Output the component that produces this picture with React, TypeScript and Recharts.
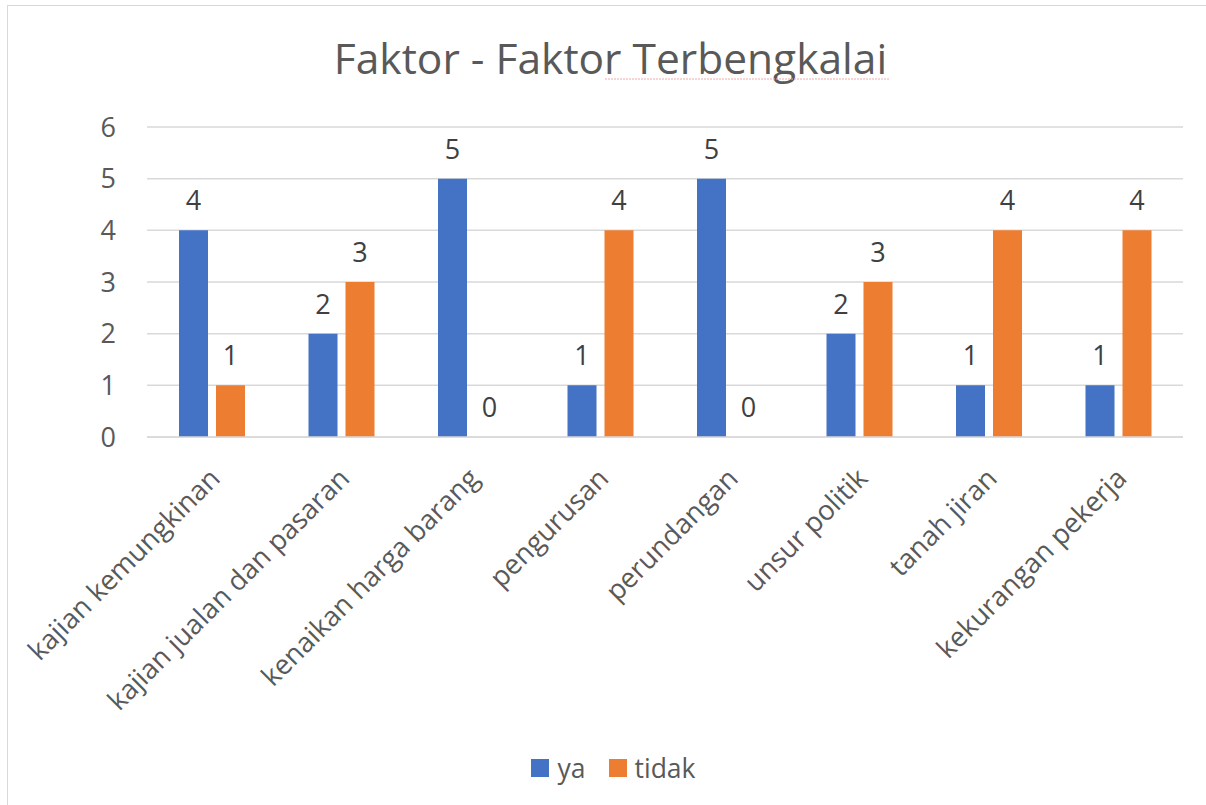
import React from "react";
import { BarChart, Bar, XAxis, YAxis, CartesianGrid, LabelList, Legend } from "recharts";

const categories = [
  "kajian kemungkinan",
  "kajian jualan dan pasaran",
  "kenaikan harga barang",
  "pengurusan",
  "perundangan",
  "unsur politik",
  "tanah jiran",
  "kekurangan pekerja",
];
const yaValues = [4, 2, 5, 1, 5, 2, 1, 1];
const tidakValues = [1, 3, 0, 4, 0, 3, 4, 4];
const yTicks = [0, 1, 2, 3, 4, 5, 6];
const seriesNames = ["ya", "tidak"];
const seriesColors = ["#4472C4", "#ED7D31"];
const titleText = "Faktor - Faktor Terbengkalai";

const data = categories.map((c, i) => ({ name: c, ya: yaValues[i], tidak: tidakValues[i] }));

const FONT = "'Open Sans', sans-serif";
const TEXT = "#595959";

const XTick = (props: any) => {
  const { x, y, payload } = props;
  return (
    <g transform={`translate(${x + 10},${y + 43})`}>
      <text transform="rotate(-45)" textAnchor="end" fill={TEXT} fontSize={27.5} fontFamily={FONT}>
        {payload.value}
      </text>
    </g>
  );
};

const renderValueLabel = (p: any) => {
  const { x, y, width, height, value } = p;
  const top = Math.min(Number(y), Number(y) + Number(height || 0));
  return (
    <text
      x={Number(x) + Number(width) / 2}
      y={top - 20}
      textAnchor="middle"
      fill="#404040"
      fontSize={27}
      fontFamily={FONT}
    >
      {value}
    </text>
  );
};

const LegendContent = () => (
  <div style={{ height: 68, display: "flex", justifyContent: "center", alignItems: "flex-start", boxSizing: "border-box" }}>
    <div style={{ display: "flex", alignItems: "center", marginTop: 16, marginLeft: 44 }}>
      {seriesNames.map((n, i) => (
        <div key={n} style={{ display: "flex", alignItems: "center", marginRight: i === 0 ? 23 : 0 }}>
          <div style={{ width: 18, height: 18, background: seriesColors[i], marginRight: 8 }} />
          <span style={{ fontFamily: FONT, fontSize: 26.5, color: TEXT, lineHeight: "30px" }}>{n}</span>
        </div>
      ))}
    </div>
  </div>
);

export default function App() {
  return (
    <div style={{ position: "absolute", left: 0, top: 0, width: 1206, height: 805, overflow: "hidden", background: "#fff" }}>
      <div style={{ position: "absolute", left: 7, top: 5, width: 1220, height: 820, border: "1px solid #d9d9d9", boxSizing: "border-box" }} />
      <div style={{ position: "absolute", left: 0, top: 0 }}>
        <BarChart
          width={1206}
          height={805}
          data={data}
          margin={{ top: 127, right: 23, bottom: 0, left: 0 }}
          barSize={29}
          barGap={8}
        >
          <CartesianGrid vertical={false} stroke="#d9d9d9" strokeWidth={1.5} />
          <XAxis
            dataKey="name"
            interval={0}
            height={300}
            tick={<XTick />}
            tickLine={false}
            tickSize={0}
            tickMargin={0}
            axisLine={{ stroke: "#d9d9d9", strokeWidth: 1.5 }}
          />
          <YAxis
            width={147}
            domain={[0, 6]}
            ticks={yTicks}
            axisLine={false}
            tickLine={false}
            tickSize={0}
            tickMargin={31}
            tick={{ fill: TEXT, fontSize: 27, fontFamily: FONT }}
          />
          <Legend verticalAlign="bottom" height={68} content={<LegendContent />} />
          <Bar dataKey="ya" fill={seriesColors[0]} minPointSize={0.01} isAnimationActive={false}>
            <LabelList dataKey="ya" content={renderValueLabel} />
          </Bar>
          <Bar dataKey="tidak" fill={seriesColors[1]} minPointSize={0.01} isAnimationActive={false}>
            <LabelList dataKey="tidak" content={renderValueLabel} />
          </Bar>
        </BarChart>
      </div>
      <div
        style={{
          position: "absolute",
          left: 0,
          width: 1221,
          top: 28,
          textAlign: "center",
          fontFamily: FONT,
          fontSize: 42.5,
          color: TEXT,
          lineHeight: "60px",
          whiteSpace: "nowrap",
        }}
      >
        {titleText}
      </div>
      <svg style={{ position: "absolute", left: 605, top: 78, overflow: "visible" }} width={284} height={4}>
        <path d="M0 1 L284 1" stroke="#f2a8a8" strokeWidth={1} strokeDasharray="2 1" />
      </svg>
    </div>
  );
}
